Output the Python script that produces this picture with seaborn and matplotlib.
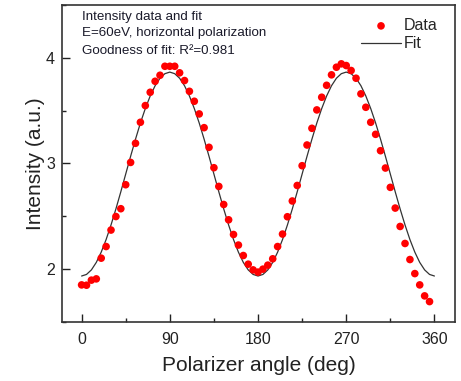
import numpy as np
import pandas as pd
import matplotlib
matplotlib.use("Agg")
import matplotlib.pyplot as plt
from matplotlib.ticker import MultipleLocator
import seaborn as sns

# ---- data ----
angles = list(range(0, 360, 5))
intensity = [
    1.851, 1.848, 1.896, 1.908, 2.104, 2.214, 2.370, 2.498, 2.572, 2.799,
    3.010, 3.191, 3.390, 3.548, 3.674, 3.778, 3.835, 3.920, 3.920, 3.920,
    3.858, 3.785, 3.683, 3.589, 3.469, 3.339, 3.153, 2.960, 2.783, 2.612,
    2.467, 2.328, 2.228, 2.129, 2.047, 1.993, 1.972, 2.000, 2.038, 2.098,
    2.214, 2.332, 2.496, 2.645, 2.792, 2.979, 3.175, 3.333, 3.507, 3.627,
    3.740, 3.839, 3.911, 3.943, 3.927, 3.880, 3.807, 3.659, 3.532, 3.390,
    3.276, 3.121, 2.957, 2.774, 2.578, 2.404, 2.243, 2.091, 1.958, 1.851,
    1.747, 1.693,
]

fit_angles = list(range(0, 365, 5))
fit_half = [1.935, 1.950, 1.993, 2.064, 2.161, 2.280, 2.418, 2.570, 2.732, 2.900,
            3.068, 3.230, 3.383, 3.520, 3.639, 3.736, 3.807, 3.850, 3.865,
            3.850, 3.807, 3.736, 3.639, 3.520, 3.383, 3.230, 3.068, 2.900,
            2.732, 2.570, 2.418, 2.280, 2.161, 2.064, 1.993, 1.950]
fit_values = fit_half + fit_half + [1.935]

x_ticks = [0, 90, 180, 270, 360]
y_ticks = [2, 3, 4]
annotation_lines = ["Intensity data and fit",
                    "E=60eV, horizontal polarization",
                    "Goodness of fit: R\u00b2=0.981"]

data_df = pd.DataFrame({"angle": angles, "intensity": intensity})
fit_df = pd.DataFrame({"angle": fit_angles, "intensity": fit_values})

sns.set_theme(style="ticks")
plt.rcParams["font.family"] = ["Liberation Sans", "DejaVu Sans"]

fig = plt.figure(figsize=(4.61, 3.81), dpi=100)
ax = fig.add_axes([0.1345, 0.1549, 0.8525, 0.832])

sns.lineplot(data=fit_df, x="angle", y="intensity", ax=ax, color="#333333",
             linewidth=0.9, label="Fit", zorder=2)
sns.scatterplot(data=data_df, x="angle", y="intensity", ax=ax, color="#ff0000",
                s=30, edgecolor="none", label="Data", zorder=3)

ax.set_xlim(-20, 381)
ax.set_ylim(1.5, 4.5)
ax.set_xticks(x_ticks)
ax.set_yticks(y_ticks)
ax.xaxis.set_minor_locator(MultipleLocator(45))
ax.yaxis.set_minor_locator(MultipleLocator(0.5))
ax.tick_params(axis="both", which="major", direction="in", length=5.5, width=1.0,
               colors="#222222", labelsize=11.5, labelcolor="#222222")
ax.tick_params(axis="both", which="minor", direction="in", length=3, width=1.0,
               colors="#222222")
ax.tick_params(axis="x", which="major", pad=7)
ax.tick_params(axis="y", which="major", pad=5)
for sp in ax.spines.values():
    sp.set_visible(True)
    sp.set_linewidth(1.2)
    sp.set_color("#333333")

ax.set_xlabel("Polarizer angle (deg)", fontsize=15, color="#222222", labelpad=7)
ax.set_ylabel("Intensity (a.u.)", fontsize=15, color="#222222", labelpad=1)

ann_y = [0.962, 0.912, 0.855]
for yy, line in zip(ann_y, annotation_lines):
    ax.text(0.052, yy, line, transform=ax.transAxes,
            fontsize=9.6, color="#1a1a2a", va="center", ha="left")

handles, labels = ax.get_legend_handles_labels()
order = [labels.index("Data"), labels.index("Fit")]
leg = ax.legend([handles[i] for i in order], [labels[i] for i in order],
                loc="upper right", bbox_to_anchor=(0.985, 0.994),
                frameon=False, fontsize=11.5,
                handlelength=2.5, handletextpad=0.2, labelspacing=0.2,
                borderaxespad=0.3)

fig.savefig("out.png", dpi=100)
